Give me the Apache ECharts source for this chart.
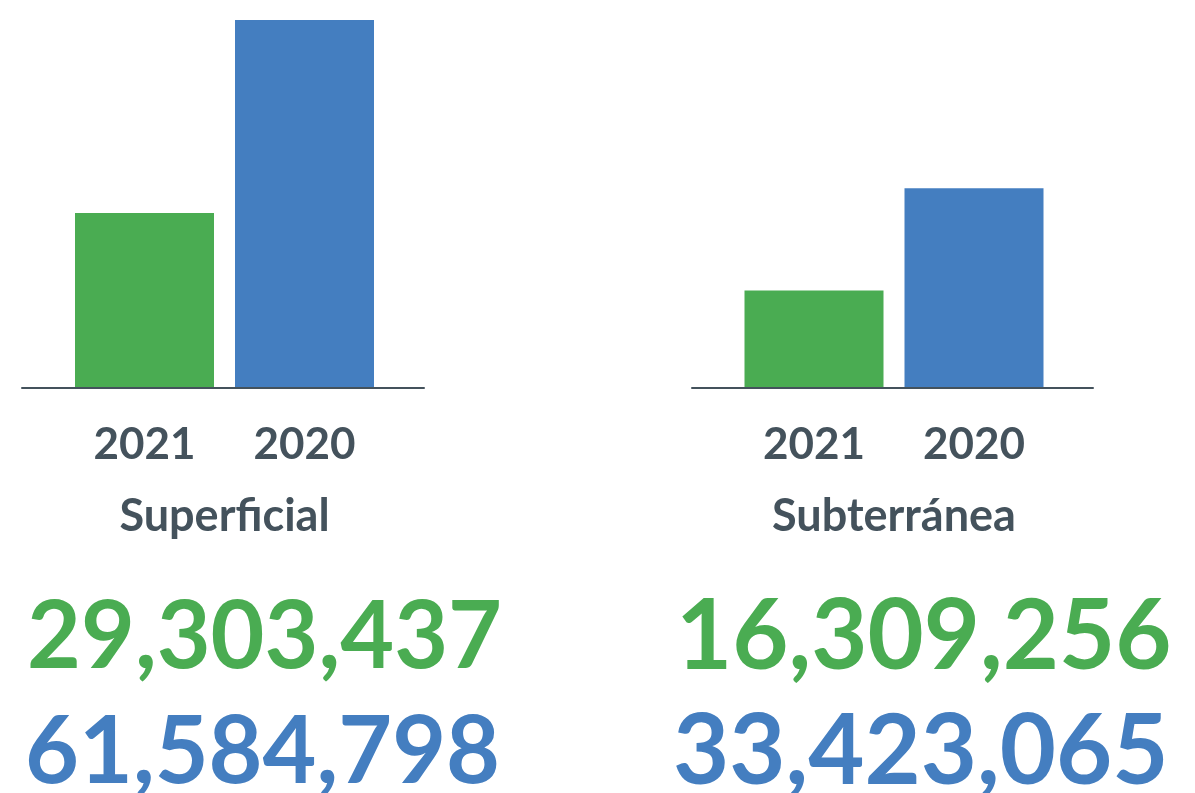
<!DOCTYPE html>
<html>
<head>
<meta charset="utf-8">
<script src="https://cdn.jsdelivr.net/npm/echarts@6/dist/echarts.min.js"></script>
<style>
html,body{margin:0;padding:0;background:#fff;}
#chart{width:1195px;height:793px;}
</style>
</head>
<body>
<div id="chart"></div>
<script>
var years = ['2021', '2020'];
var groups = ['Superficial', 'Subterránea'];
var superficialValues = [29303437, 61584798];
var subterraneaValues = [16309256, 33423065];

var GREEN = '#4aac52';
var BLUE = '#447ec0';
var TEXT = '#44525c';
var FONT = 'Lato';

var chart = echarts.init(document.getElementById('chart'));
var yMax = Math.max.apply(null, superficialValues.concat(subterraneaValues));

function fmt(v){ return v.toLocaleString('en-US'); }

function barData(vals){
  return vals.map(function(v, i){
    return {value: v, itemStyle: {color: i === 0 ? GREEN : BLUE}};
  });
}

function catAxis(grid, name){
  return {gridIndex: grid, type: 'category', data: years,
    axisLine: {show: false}, axisTick: {show: false},
    axisLabel: {margin: 35, fontFamily: FONT, fontWeight: 'bold', fontSize: 44, color: TEXT},
    name: name, nameLocation: 'middle', nameGap: 106,
    nameTextStyle: {fontFamily: FONT, fontWeight: 'bold', fontSize: 45, color: TEXT}};
}
function baseAxis(grid){
  return {gridIndex: grid, type: 'category', data: [''], z: 5,
    axisLine: {show: true, lineStyle: {color: TEXT, width: 2}},
    axisTick: {show: false}, axisLabel: {show: false}};
}
function bigText(v, x, y, color, size){
  return {text: fmt(v), left: x, top: y,
    textStyle: {fontFamily: FONT, fontWeight: 'bold', fontSize: size, color: color}};
}

var option = {
  backgroundColor: '#ffffff',
  animation: false,
  grid: [
    {left: 64.5, width: 320, top: 20, height: 368},
    {left: 734, width: 320, top: 20, height: 368},
    {left: 22, width: 402, top: 20, height: 368},
    {left: 692, width: 401, top: 20, height: 368}
  ],
  xAxis: [catAxis(0, groups[0]), catAxis(1, groups[1]), baseAxis(2), baseAxis(3)],
  yAxis: [0,1,2,3].map(function(i){
    return {gridIndex: i, type: 'value', min: 0, max: yMax, show: false, splitLine: {show: false}};
  }),
  title: [
    bigText(superficialValues[0], 22, 586, GREEN, 93),
    bigText(superficialValues[1], 20, 701, BLUE, 93),
    bigText(subterraneaValues[0], 671, 584, GREEN, 97),
    bigText(subterraneaValues[1], 668, 699, BLUE, 97)
  ],
  series: [
    {type: 'bar', xAxisIndex: 0, yAxisIndex: 0, barWidth: 139, data: barData(superficialValues)},
    {type: 'bar', xAxisIndex: 1, yAxisIndex: 1, barWidth: 139, data: barData(subterraneaValues)}
  ]
};
chart.setOption(option);
</script>
</body>
</html>
